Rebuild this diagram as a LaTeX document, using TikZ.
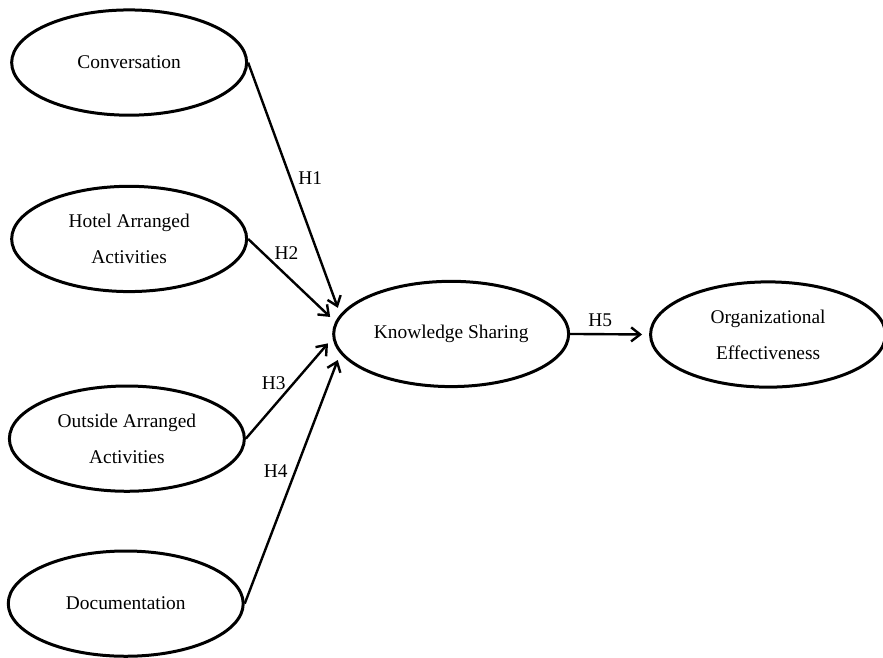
\documentclass[tikz,border=0pt]{standalone}
\usepackage{fontspec}
\setmainfont{Liberation Serif}
\usetikzlibrary{shapes.geometric, arrows.meta, positioning}

\tikzset{
  construct/.style={ellipse, draw, line width=1.5pt, minimum width=4.13cm,
    minimum height=1.85cm, inner sep=0pt, align=center,
    font=\fontsize{9.7}{18}\selectfont},
  hyp/.style={-{Straight Barb[length=4.5pt,width=7pt]}, line width=1.2pt, shorten >=3.5pt},
  hlabel/.style={font=\fontsize{9.7}{12}\selectfont}
}

\begin{document}
\begin{tikzpicture}
    \useasboundingbox (0,0) rectangle (15.52,11.56);

    % Antecedents
    \node[construct] (conv) at (2.27,10.46) {Conversation};
    \node[construct] (hotel) at (2.27,7.36) {Hotel Arranged\\Activities};
    \node[construct] (outside) at (2.23,3.85) {Outside Arranged\\Activities};
    \node[construct] (doc) at (2.21,0.95) {Documentation};

    % Mediator and outcome
    \node[construct] (ks) at (7.93,5.69) {Knowledge Sharing};
    \node[construct] (org) at (13.50,5.68) {Organizational\\Effectiveness};

    % Hypotheses
    \draw[hyp] (conv.east) -- (ks.170) node[pos=0.46, right, hlabel] {H1};
    \draw[hyp] (hotel.east) -- (ks.174) node[pos=0.44, above=4pt, hlabel] {H2};
    \draw[hyp] (outside.east) -- (ks.182) node[pos=0.55, left, hlabel] {H3};
    \draw[hyp] (doc.east) -- (ks.190) node[pos=0.53, left, hlabel] {H4};
    \draw[hyp] (ks.east) -- (org.west) node[pos=0.38, above, hlabel] {H5};
\end{tikzpicture}
\end{document}
